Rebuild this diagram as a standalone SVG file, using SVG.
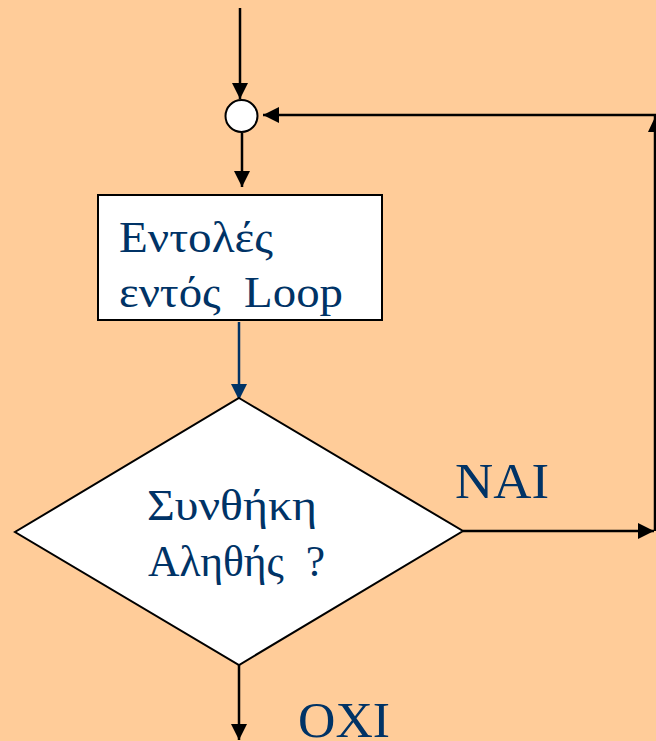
<svg xmlns="http://www.w3.org/2000/svg" width="656" height="741" viewBox="0 0 656 741">
  <defs>
    <marker id="ah" viewBox="0 0 10 10" refX="10" refY="5" markerWidth="16" markerHeight="16" markerUnits="userSpaceOnUse" orient="auto">
      <path d="M0,0 L10,5 L0,10 Z" fill="#000"/>
    </marker>
    <marker id="ahBlue" viewBox="0 0 10 10" refX="10" refY="5" markerWidth="16" markerHeight="16" markerUnits="userSpaceOnUse" orient="auto">
      <path d="M0,0 L10,5 L0,10 Z" fill="#003366"/>
    </marker>
  </defs>
  <style>
    .bg { fill: #FFCC99; }
    .shape { fill: #FFFFFF; stroke: #000; stroke-width: 2; }
    .line { fill: none; stroke: #000; stroke-width: 2.5; }
    .blue { fill: none; stroke: #003366; stroke-width: 2.5; }
    .lbl { font-family: "Liberation Serif", "Times New Roman", serif; fill: #003366; }
  </style>
  <rect class="bg" x="0" y="0" width="656" height="741"/>

  <g id="connectors">
    <line class="line" x1="240" y1="8" x2="240" y2="99" marker-end="url(#ah)"/>
    <line class="line" x1="242" y1="133" x2="242" y2="187" marker-end="url(#ah)"/>
    <line class="blue" x1="239" y1="322" x2="239" y2="400" marker-end="url(#ahBlue)"/>
    <line class="line" x1="463" y1="531" x2="654" y2="531" marker-end="url(#ah)"/>
    <polyline class="line" points="655,531 655,115 263,115" marker-end="url(#ah)"/>
    <path d="M655,117 L662,132 L648,132 Z" fill="#000"/>
    <line class="line" x1="239" y1="665" x2="239" y2="740" marker-end="url(#ah)"/>
  </g>

  <g id="junction">
    <circle class="shape" cx="241.5" cy="116" r="16"/>
  </g>

  <g id="loop-body">
    <rect class="shape" x="98" y="195" width="284" height="125"/>
    <text class="lbl" x="119" y="252" font-size="45" textLength="154" lengthAdjust="spacingAndGlyphs">Εντολές</text>
    <text class="lbl" x="119" y="307" font-size="45" textLength="224" lengthAdjust="spacingAndGlyphs" xml:space="preserve">εντός  Loop</text>
  </g>

  <g id="condition">
    <polygon class="shape" points="239,398 463,531 239,665 15,532"/>
    <text class="lbl" x="147" y="520" font-size="44" textLength="170" lengthAdjust="spacingAndGlyphs">Συνθήκη</text>
    <text class="lbl" x="148" y="576" font-size="44" textLength="177" lengthAdjust="spacingAndGlyphs" xml:space="preserve">Αληθής  ?</text>
  </g>

  <g id="labels">
    <text class="lbl" x="455" y="498" font-size="50" textLength="94" lengthAdjust="spacingAndGlyphs">NAI</text>
    <text class="lbl" x="298" y="737" font-size="50" textLength="92" lengthAdjust="spacingAndGlyphs">OXI</text>
  </g>
</svg>
